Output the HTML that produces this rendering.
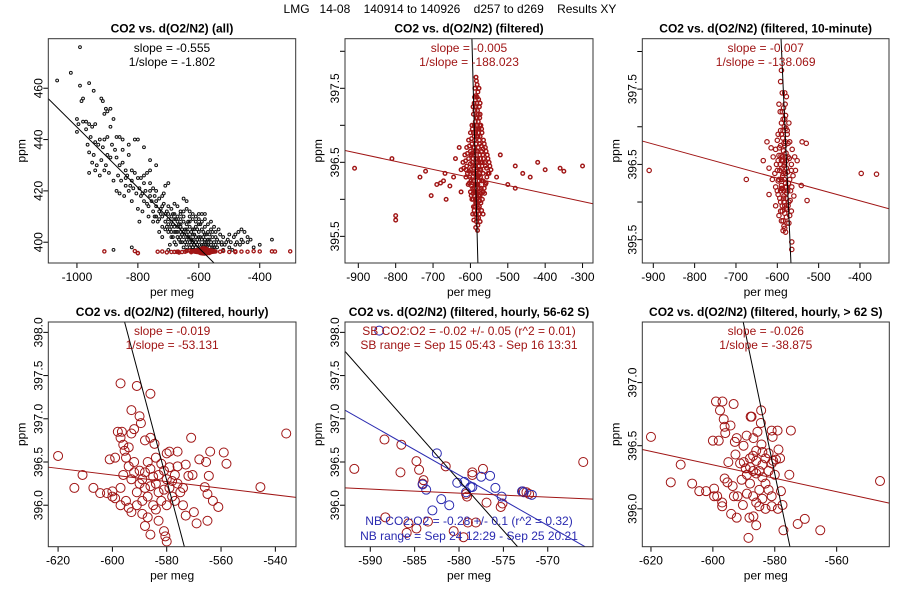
<!DOCTYPE html>
<html><head><meta charset="utf-8"><style>
html,body{margin:0;padding:0;background:#fff;}
svg{display:block;font-family:"Liberation Sans",sans-serif;}
</style></head><body>
<svg id="c" width="900" height="600" viewBox="0 0 900 600">
<text x="450" y="13" text-anchor="middle" font-size="12" style="white-space:pre" xml:space="preserve">LMG   14-08    140914 to 140926    d257 to d269    Results XY</text>
</svg>
<script>
// ---- data (x = per meg, y = ppm) ----
const allBlack = [-1065,463,-1020,466,-990,476,-990,461,-985,455,-980,456,-960,462,-945,459,-920,456,-915,455,-905,452,-900,451,-890,452,-910,450,-1000,448,-995,446,-1000,443,-980,447,-970,447,-960,446,-950,445,-940,446,-955,441,-940,439,-930,438,-925,440,-910,440,-900,441,-890,445,-880,448,-870,441,-860,441,-850,440,-830,438,-810,440,-800,440,-780,437,-760,432,-740,430,-960,435,-950,431,-960,427,-940,428,-920,432,-910,428,-900,434,-890,433,-870,433,-860,430,-850,431,-840,428,-820,428,-810,427,-800,425,-790,425,-780,423,-770,427,-760,423,-750,421,-740,420,-730,417,-720,418,-710,422,-700,423,-690,413,-680,415,-670,414,-660,412,-650,417,-640,416,-630,410,-880,424,-870,420,-860,419,-840,422,-830,420,-820,416,-800,413,-790,418,-780,416,-770,415,-760,418,-750,412,-740,414,-730,412,-720,410,-710,411,-700,409,-690,408,-680,406,-670,404,-660,406,-650,404,-640,403,-630,402,-620,401,-610,402,-600,404,-590,401,-580,403,-570,401,-560,399,-550,400,-540,401,-530,403,-520,402,-510,400,-500,398,-490,397,-480,399,-470,404,-460,405,-450,404,-440,402,-430,401,-360,401,-420,398,-700,404,-690,402,-680,400,-670,402,-660,400,-650,398,-640,399,-630,398,-620,397,-610,398,-600,397,-700,411,-690,410,-680,409,-670,408,-660,409,-650,408,-640,407,-630,406,-620,405,-610,406,-600,407,-590,405,-580,406,-570,404,-560,405,-660,402,-640,401,-620,400,-600,400,-580,398,-560,397,-540,398,-520,397,-680,411,-660,411,-700,414,-720,414,-740,416,-760,420,-820,424,-840,425,-850,436,-830,434,-760,428,-780,426,-880,397,-820,398,-700,397,-600,409,-620,409,-580,411,-590,411,-650,410,-630,412,-675,404,-655,403,-635,404,-615,403,-595,402,-575,400,-555,402,-545,399,-625,399,-605,399,-585,399,-565,398];
const allBlack2 = [-970,444,-965,438,-945,434,-935,430,-925,426,-915,437,-905,430,-895,427,-885,438,-875,436,-865,426,-855,424,-845,418,-835,426,-825,422,-815,421,-805,419,-795,421,-785,419,-775,420,-765,414,-755,416,-745,410,-735,408,-725,413,-715,415,-705,406,-695,405,-685,411,-675,409,-665,407,-655,405,-645,405,-635,408,-625,404,-615,405,-605,405,-595,407,-585,404,-575,403,-565,401,-555,404,-545,402,-535,400,-525,400,-515,399,-505,401,-495,400,-485,402,-475,400,-465,399,-455,400,-700,407,-690,406,-680,404,-670,406,-660,404,-650,402,-640,405,-630,400,-620,403,-610,400,-600,402,-590,399,-580,401,-570,399,-560,400,-550,398,-710,405,-720,406,-730,404,-740,410,-750,408,-685,402,-665,401,-645,400,-625,401,-605,401,-585,402,-565,403,-545,404,-535,405,-525,399,-695,399,-675,399,-655,400,-635,402,-615,399,-595,398,-575,399,-555,398,-710,408,-720,402,-730,409,-690,404,-670,410,-650,412,-640,413,-620,411,-610,410,-600,411,-590,408,-580,409,-570,407,-560,408,-640,397,-620,398,-580,400,-550,406,-610,408,-630,408,-660,407,-685,407,-705,412,-725,411,-745,418,-715,419,-765,410,-785,412,-795,408,-440,400,-460,401,-400,399,-480,403,-500,403];
const filtered = [-585,397.65,-582,397.55,-588,397.5,-580,397.45,-586,397.4,-578,397.35,-590,397.3,-583,397.3,-576,397.25,-588,397.2,-581,397.2,-592,397.15,-575,397.1,-585,397.1,-579,397.05,-590,397.0,-583,397.0,-572,397.0,-595,396.95,-577,396.95,-586,396.9,-600,396.9,-569,396.9,-590,396.85,-580,396.85,-605,396.8,-565,396.8,-596,396.75,-575,396.75,-585,396.75,-610,396.7,-560,396.7,-592,396.7,-570,396.65,-600,396.65,-582,396.65,-615,396.6,-555,396.6,-590,396.6,-575,396.6,-605,396.55,-565,396.55,-585,396.55,-620,396.5,-550,396.5,-595,396.5,-578,396.5,-610,396.45,-560,396.45,-588,396.45,-572,396.4,-600,396.4,-625,396.4,-545,396.4,-583,396.4,-593,396.35,-566,396.35,-612,396.3,-556,396.3,-580,396.3,-598,396.25,-570,396.25,-588,396.2,-606,396.2,-560,396.2,-576,396.15,-594,396.15,-584,396.1,-600,396.1,-566,396.1,-590,396.05,-574,396.05,-582,396.0,-596,396.0,-568,396.0,-586,395.95,-576,395.9,-592,395.9,-581,395.85,-570,395.85,-588,395.8,-578,395.75,-584,395.7,-574,395.7,-580,395.65,-586,395.62,-584,397.6,-579,397.15,-587,397.05,-581,396.95,-584,396.85,-574,396.85,-589,396.8,-579,396.7,-598,396.6,-567,396.6,-581,396.55,-572,396.5,-589,396.35,-576,396.35,-602,396.3,-585,396.3,-566,396.25,-580,396.2,-592,396.25,-571,396.15,-588,396.1,-578,396.05,-583,395.95,-590,395.85,-572,395.95,-577,395.8,-583,395.75,-593,396.55,-583,396.5,-577,396.45,-594,396.45,-582,396.2,-587,396.0,-579,396.1,-910,396.42,-810,396.55,-800,395.78,-800,395.72,-735,396.3,-720,396.38,-705,396.05,-690,396.2,-680,396.22,-672,396.25,-668,396.35,-665,396.0,-655,396.18,-645,396.3,-640,396.55,-630,396.7,-625,396.1,-530,396.3,-520,396.6,-500,396.2,-480,396.45,-460,396.35,-440,396.3,-420,396.5,-400,396.4,-360,396.42,-300,396.45,-350,396.38,-480,396.15];
const filtered2 = [-596,397.0,-574,397.15,-592,396.9,-570,396.95,-603,396.72,-563,396.75,-608,396.62,-558,396.65,-613,396.52,-553,396.55,-618,396.42,-548,396.45,-608,396.35,-553,396.35,-603,396.22,-558,396.22,-598,396.05,-562,396.08,-594,395.8,-566,395.8,-596,396.62,-566,396.68,-600,396.48,-562,396.5,-604,396.38,-557,396.42,-597,396.18,-563,396.15,-593,396.08,-571,396.08,-575,395.98,-591,395.72,-581,395.58,-577,397.5,-589,397.38,-574,397.3,-593,397.25,-597,396.82,-573,396.55,-587,396.65,-577,396.25,-591,396.42,-569,396.45,-589,396.15,-581,396.02,-588,395.9,-584,395.8,-579,395.88,-573,396.3,-585,396.2,-593,396.0,-571,396.72,-587,397.25,-582,397.38,-579,396.9,-576,396.8,-594,396.62,-584,396.38,-576,396.4,-583,396.08,-578,396.32,-590,396.7,-568,396.5,-612,396.4,-550,396.35,-582,397.1,-585,396.95,-575,397.0];
const tenMin = [-590,397.75,-592,397.6,-596,397.3,-588,397.45,-582,397.45,-578,397.4,-593,397.2,-585,397.25,-580,397.15,-572,397.05,-590,397.05,-583,397.0,-598,396.9,-576,396.95,-587,396.85,-600,396.82,-570,396.8,-580,396.8,-592,396.75,-625,396.8,-615,396.72,-540,396.8,-530,396.78,-604,396.7,-564,396.7,-585,396.68,-596,396.62,-574,396.6,-610,396.6,-558,396.6,-590,396.55,-578,396.55,-634,396.55,-552,396.55,-602,396.5,-566,396.5,-584,396.48,-620,396.45,-556,396.42,-594,396.42,-575,396.4,-606,396.38,-562,396.35,-587,396.35,-612,396.3,-570,396.3,-598,396.28,-580,396.25,-542,396.22,-604,396.2,-565,396.2,-590,396.18,-575,396.15,-620,396.1,-598,396.1,-584,396.08,-560,396.08,-528,396.02,-592,396.0,-572,396.0,-604,395.95,-582,395.95,-588,395.88,-566,395.88,-596,395.82,-578,395.8,-590,395.75,-572,395.72,-584,395.68,-580,395.6,-586,395.62,-565,395.47,-565,395.37,-910,396.42,-675,396.3,-397,396.38,-360,396.37,-582,397.1,-586,396.95,-579,396.65,-590,396.3,-578,396.2,-585,396.05,-576,395.9,-588,396.6,-583,396.4,-592,396.15];
const tenMin2 = [-588,397.2,-581,397.3,-586,397.1,-592,396.95,-579,396.98,-595,396.72,-582,396.75,-574,396.78,-598,396.55,-586,396.55,-571,396.58,-600,396.42,-589,396.45,-578,396.45,-566,396.42,-596,396.3,-583,396.3,-573,396.25,-600,396.15,-587,396.18,-578,396.12,-568,396.15,-594,396.05,-579,396.05,-569,396.02,-588,395.95,-574,395.95,-592,395.88,-582,395.85,-570,395.82,-586,395.75,-576,395.72,-582,395.65,-590,396.9,-576,396.9,-591,396.62,-580,396.6,-593,396.5,-582,396.52,-590,396.22,-581,396.2,-584,396.0,-578,395.92,-586,396.38,-580,396.38,-584,396.78,-584,396.15];
const hourly = [-620,396.57,-614,396.2,-611,396.35,-607,396.2,-604.5,396.14,-602,396.14,-600,396.16,-600,396.1,-599,396.08,-598,396.85,-597,397.41,-597,396.78,-596.5,396.85,-596,396.7,-595.5,396.63,-595,396.55,-594,396.67,-593,397.1,-593,396.83,-591,397.38,-590,397.03,-589.5,396.95,-586,397.29,-592,396.88,-588,396.75,-586,396.78,-584.5,396.71,-580,396.6,-579,396.62,-576,396.62,-571,396.78,-568,396.53,-565.5,396.5,-564,396.62,-559,396.61,-558,396.48,-545.5,396.21,-536,396.83,-573,396.47,-572,396.34,-570.5,396.35,-564.5,396.34,-566,396.21,-565,396.13,-563,396.05,-561,395.98,-570,395.92,-573,395.88,-569,395.79,-565,395.82,-580,395.58,-581,395.7,-580.5,395.64,-583,395.82,-586,395.66,-588,395.76,-587,395.86,-589,395.9,-591,396.0,-593,395.92,-594,395.97,-595,396.05,-597,396.0,-599,396.55,-601,396.53,-596,396.35,-597,396.2,-594,396.45,-592,396.5,-590,396.4,-589,396.3,-588,396.2,-587,396.1,-586,396.42,-585,396.33,-584,396.25,-583,396.15,-582,396.05,-581,396.4,-580,396.3,-579,396.2,-578,396.1,-577,396.35,-576,396.25,-575,396.15,-574,396.0,-589,396.05,-591,396.15,-593,396.3,-587,396.5,-584,396.55,-582,396.48,-579,396.44,-576,396.45,-585,396.0,-583,396.35,-586,396.22,-590,396.25,-588,396.38,-578,396.28,-581,396.18,-592,396.38,-577,396.05,-574,396.2,-584,395.95,-580,396.0];
const hourly62 = [-620,396.57,-613.6,396.21,-610.4,396.35,-606.7,396.2,-604.4,396.14,-602.2,396.14,-599.6,396.16,-599.6,396.1,-598.6,396.1,-600,396.54,-598.1,396.54,-599,396.85,-596.9,396.85,-597.7,396.78,-593.3,396.83,-596.5,396.71,-596.2,396.65,-596,396.6,-594.3,396.66,-592.3,396.56,-592.9,396.53,-590.1,396.5,-589.1,396.58,-587.8,396.73,-587.5,396.73,-584.4,396.78,-584.5,396.68,-585.6,396.61,-586.9,396.56,-584.3,396.51,-581,396.62,-579.1,396.62,-574.8,396.62,-580.7,396.57,-578.8,396.47,-578.3,396.4,-579.6,396.39,-575.3,396.27,-580.5,396.38,-578,396.14,-577.5,396.03,-577.2,395.83,-570.3,395.92,-572.6,395.88,-565.3,395.83,-546,396.22,-588.5,395.77,-586,395.87,-588.2,395.93,-586.9,395.94,-592.3,395.93,-594.1,395.96,-597,396.02,-597,396.05,-593.2,396.1,-592,396.1,-590.3,396.03,-593.6,396.18,-595,396.37,-592.7,396.43,-591.2,396.36,-596.2,396.24,-595.3,396.21,-590.7,396.23,-589.4,396.32,-588,396.4,-587,396.42,-586,396.38,-585,396.3,-584,396.25,-583,396.2,-582,396.15,-581,396.1,-587,396.1,-586,396.05,-585,396.02,-584,396.08,-583,396.0,-588,396.2,-589,396.27,-590,396.37,-586,396.28,-584,396.35,-582,396.3,-580,396.27,-581,396.02,-579,396.0,-585,396.15,-587,396.3,-588,396.33,-583,396.4,-582,396.44,-581,396.36,-584,396.45,-586,396.46,-589,396.12];
const sbX = [-591.8,-588.4,-586.5,-586.6,-584.8,-584.5,-584.1,-584,-581.5,-578.5,-578.5,-577.3,-579.2,-579.1,-576.9,-575.1,-575.3,-572.8,-572.4,-572.1,-566.0,-588.3,-585.7,-585.9,-584.8,-583.5,-580.6,-579.5,-579,-578.1];
const sbY = [396.42,396.76,396.70,396.38,396.51,396.41,396.25,396.29,396.45,396.38,396.35,396.42,396.13,396.10,396.03,396.02,395.98,396.16,396.15,396.13,396.50,395.86,395.79,395.68,395.73,395.81,395.70,395.63,395.80,395.80];
const nbX = [-589,-582.5,-580.2,-579.4,-579.2,-578.7,-578.5,-577.5,-576.5,-575.9,-575.2,-572.9,-572.7,-571.8,-583.7,-582,-581.1,-583,-584.1];
const nbY = [398.02,396.60,396.26,396.27,396.15,396.21,396.21,396.33,396.34,396.20,396.10,396.16,396.15,396.12,396.18,396.07,396.00,395.94,396.24];
// fit lines: [x1,y1,x2,y2] in data units
const fit1 = [-1094,455.9,-550,391.9];
const fit2Red = [-935.6,396.66,-272,395.94], fit2Blk = [-596,398.17,-580,395.14];
const fit3Red = [-926.6,396.81,-329.8,395.91], fit3Blk = [-591,398.17,-567,395.19];
const fit4Red = [-623.6,396.44,-532.4,396.09], fit4Blk = [-595.6,398.13,-573.5,395.52];
const fit5Red = [-592.85,396.20,-564.9,396.07], fit5Blu = [-592.85,397.10,-565.8,395.52], fit5Blk = [-592.85,397.78,-573.4,395.52];
const fit6Red = [-622.8,396.47,-543,396.045], fit6Blk = [-590.2,397.48,-575.1,395.70];
// tick values
const xt1 = [-1000,-800,-600,-400], yt1 = [400,420,440,460];
const xt2 = [-900,-800,-700,-600,-500,-400,-300], xt3 = [-900,-800,-700,-600,-500,-400];
const yt23 = [395.5,396,396.5,397,397.5,398], yl23 = [395.5,396.5,397.5];
const xt4 = [-620,-600,-580,-560,-540], yt45 = [396,396.5,397,397.5,398];
const xt5 = [-590,-585,-580,-575,-570], xt6 = [-620,-600,-580,-560], yt6 = [396,396.5,397];

const RED = '#a01515', BLUE = '#2a2ab0';
const NS = 'http://www.w3.org/2000/svg';
const svg = document.getElementById('c');
function mk(tag, attrs, parent){const e=document.createElementNS(NS,tag);for(const k in attrs)e.setAttribute(k,attrs[k]);(parent||svg).appendChild(e);return e;}
function fmt(v, d){return v<0?'-'+Math.abs(v).toFixed(d):v.toFixed(d);}

function panel(id, b, dx, dy, title, xt, yt, yl, dec){
  const sx = v => b.x0 + (v-dx[0])/(dx[1]-dx[0])*(b.x1-b.x0);
  const sy = v => b.y1 - (v-dy[0])/(dy[1]-dy[0])*(b.y1-b.y0);
  const g = mk('g',{});
  
  
  const cp = mk('clipPath',{id:'cp-'+id},g);
  mk('rect',{x:b.x0,y:b.y0,width:b.x1-b.x0,height:b.y1-b.y0},cp);
  const t = mk('text',{x:(b.x0+b.x1)/2,y:b.y0-6,'text-anchor':'middle','font-size':12,'font-weight':'bold'},g);
  t.textContent = title;
  
  
  const ax = mk('g',{stroke:'#000','stroke-width':1},g);
  
  
  xt.forEach(v=>{
    const x=sx(v);
    mk('line',{x1:x,x2:x,y1:b.y1,y2:b.y1+5},ax);
    const l=mk('text',{x:x,y:b.y1+18,'text-anchor':'middle','font-size':12,stroke:'none',fill:'#000'},g);
    l.textContent=String(v);
    
    
  });
  yt.forEach(v=>{
    const y=sy(v);
    mk('line',{x1:b.x0,x2:b.x0-5,y1:y,y2:y},ax);
    if(yl.indexOf(v)>=0){
      const l=mk('text',{x:b.x0-10,y:y,'text-anchor':'middle','font-size':12,transform:`rotate(-90 ${b.x0-10} ${y})`,dy:'0.35em'},g);
      l.textContent=fmt(v,dec);
      
      
    }
  });
  const xl=mk('text',{x:(b.x0+b.x1)/2,y:b.y1+33,'text-anchor':'middle','font-size':12},g);
  xl.textContent='per meg';
  
  
  const ym=(b.y0+b.y1)/2, yx=b.x0-27;
  const yl2=mk('text',{x:yx,y:ym,'text-anchor':'middle','font-size':12,transform:`rotate(-90 ${yx} ${ym})`,dy:'0.35em'},g);
  yl2.textContent='ppm';
  
  
  const plot = mk('g',{'clip-path':`url(#cp-${id})`},g);
  const frame = mk('rect',{x:b.x0,y:b.y0,width:b.x1-b.x0,height:b.y1-b.y0,fill:'none',stroke:'#333','stroke-width':1},g);
  
  
  return {sx,sy,plot,g,b};
}
function pts(P, xs, ys, r, col, sw, name){
  for(let i=0;i<xs.length;i++){
    const c=mk('circle',{cx:P.sx(xs[i]),cy:P.sy(ys[i]),r:r,fill:'none',stroke:col,'stroke-width':sw},P.plot);
    
    
  }
}
function flatPts(P, arr, r, col, sw, name){
  const xs=[],ys=[];for(let i=0;i<arr.length;i+=2){xs.push(arr[i]);ys.push(arr[i+1]);}
  pts(P,xs,ys,r,col,sw,name);
}
function line(P, f, col, name){
  const l=mk('line',{x1:P.sx(f[0]),y1:P.sy(f[1]),x2:P.sx(f[2]),y2:P.sy(f[3]),stroke:col,'stroke-width':1},P.plot);
  
  
}
function note(P, txt, y, col, name){
  const t=mk('text',{x:(P.b.x0+P.b.x1)/2,y:y,'text-anchor':'middle','font-size':12,fill:col},P.g);
  t.textContent=txt;
  
  
}

const R1={y0:38.7,y1:263}, R2={y0:322,y1:546.7};
// Panel 1
const P1=panel('panel-all',{x0:48.3,x1:295.7,...R1},[-1094,-282],[391.9,479.3],'CO2 vs. d(O2/N2) (all)',xt1,yt1,yt1,0);
flatPts(P1,allBlack,1.4,'#111',1,'point-all');
flatPts(P1,allBlack2,1.4,'#111',1,'point-all');
flatPts(P1,filtered,1.6,RED,1.3,'point-filtered');
flatPts(P1,filtered2,1.6,RED,1.3,'point-filtered');
line(P1,fit1,'#000','fit-line');
note(P1,'slope = -0.555',52,'#000','slope-label');note(P1,'1/slope = -1.802',66,'#000','inverse-slope-label');
// Panel 2
const P2=panel('panel-filtered',{x0:345,x1:593,...R1},[-935.6,-272],[395.14,398.17],'CO2 vs. d(O2/N2) (filtered)',xt2,yt23,yl23,1);
flatPts(P2,filtered,1.8,RED,1.4,'point-filtered');
flatPts(P2,filtered2,1.8,RED,1.4,'point-filtered');
line(P2,fit2Red,RED,'fit-line-red');line(P2,fit2Blk,'#000','fit-line-black');
note(P2,'slope = -0.005',52,RED,'slope-label');note(P2,'1/slope = -188.023',66,RED,'inverse-slope-label');
// Panel 3
const P3=panel('panel-10-minute',{x0:642.3,x1:889,...R1},[-926.6,-329.8],[395.19,398.17],'CO2 vs. d(O2/N2) (filtered, 10-minute)',xt3,yt23,yl23,1);
flatPts(P3,tenMin,2.2,RED,1.2,'point-10min');
flatPts(P3,tenMin2,2.2,RED,1.2,'point-10min');
line(P3,fit3Red,RED,'fit-line-red');line(P3,fit3Blk,'#000','fit-line-black');
note(P3,'slope = -0.007',52,RED,'slope-label');note(P3,'1/slope = -138.069',66,RED,'inverse-slope-label');
// Panel 4
const P4=panel('panel-hourly',{x0:48.3,x1:296,...R2},[-623.6,-532.4],[395.52,398.12],'CO2 vs. d(O2/N2) (filtered, hourly)',xt4,yt45,yt45,1);
flatPts(P4,hourly,4.5,RED,1,'point-hourly');
line(P4,fit4Red,RED,'fit-line-red');line(P4,fit4Blk,'#000','fit-line-black');
note(P4,'slope = -0.019',335,RED,'slope-label');note(P4,'1/slope = -53.131',349,RED,'inverse-slope-label');
// Panel 5
const P5=panel('panel-hourly-56-62S',{x0:345,x1:593,...R2},[-592.85,-564.9],[395.52,398.12],'CO2 vs. d(O2/N2) (filtered, hourly, 56-62 S)',xt5,yt45,yt45,1);
pts(P5,sbX,sbY,4.5,RED,1,'point-sb');
pts(P5,nbX,nbY,4.5,BLUE,1,'point-nb');
line(P5,fit5Blk,'#000','fit-line-black');line(P5,fit5Blu,BLUE,'fit-line-nb');line(P5,fit5Red,RED,'fit-line-sb');
note(P5,'SB CO2:O2 = -0.02 +/- 0.05 (r^2 = 0.01)',335,RED,'sb-ratio-label');note(P5,'SB range = Sep 15 05:43 - Sep 16 13:31',349,RED,'sb-range-label');
note(P5,'NB CO2:O2 = -0.28 +/- 0.1 (r^2 = 0.32)',525,BLUE,'nb-ratio-label');note(P5,'NB range = Sep 24 12:29 - Sep 25 20:21',540,BLUE,'nb-range-label');
// Panel 6
const P6=panel('panel-hourly-gt62S',{x0:642.3,x1:889.3,...R2},[-622.8,-543],[395.70,397.48],'CO2 vs. d(O2/N2) (filtered, hourly, > 62 S)',xt6,yt6,yt6,1);
flatPts(P6,hourly62,4.5,RED,1,'point-hourly-62');
line(P6,fit6Red,RED,'fit-line-red');line(P6,fit6Blk,'#000','fit-line-black');
note(P6,'slope = -0.026',335,RED,'slope-label');note(P6,'1/slope = -38.875',349,RED,'inverse-slope-label');
</script>
</body></html>
